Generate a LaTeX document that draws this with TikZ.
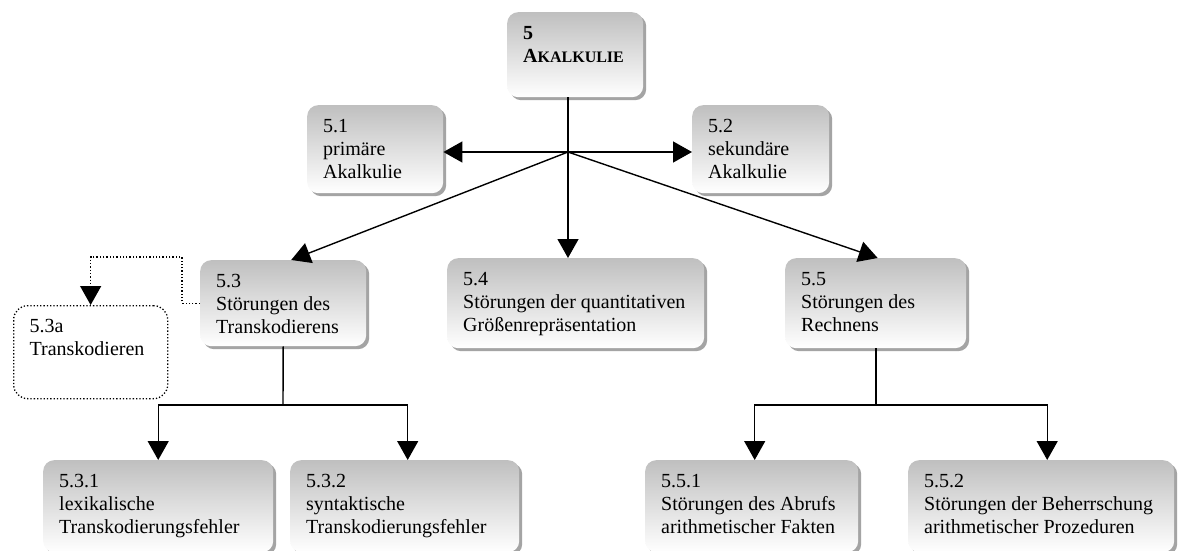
\documentclass[tikz,border=0pt]{standalone}
\usepackage{fontspec}
\setmainfont{Liberation Serif}
\usetikzlibrary{arrows.meta,shadows}
% box content: width, height (in pt, outer size), text
\newcommand\bxcontent[3]{\parbox[t][\dimexpr#2pt-28pt\relax][t]{\dimexpr#1pt-32pt\relax}{#3}}
\tikzset{
  box/.style={anchor=north west, inner xsep=16pt, inner ysep=14pt,
    rounded corners=11pt, top color=black!25, bottom color=white, draw=none,
    drop shadow={shadow xshift=3pt, shadow yshift=-3pt, fill=black!55, opacity=.65}},
  openbox/.style={anchor=north west, inner xsep=16pt, inner ysep=14pt,
    rounded corners=14pt, draw, dotted, line width=1.3pt, fill=white},
  conn/.style={line width=1.4pt},
  arr/.style={conn, -{Triangle[length=19pt,width=21pt]}},
  dotarr/.style={line width=1.3pt, dotted, -{Triangle[length=19pt,width=21pt]}}
}
\begin{document}
\begin{tikzpicture}[x=1pt, y=-1pt, font=\fontsize{20}{23}\selectfont]
\useasboundingbox (0,0) rectangle (1179,551);

% top level
\node[box] (n5) at (507,12) {\bxcontent{136}{85}{\textbf{5}\\\textbf{A{\fontsize{16}{23}\selectfont KALKULIE}}}};

% second level
\node[box] (n51) at (307,105) {\bxcontent{136}{88}{5.1\\primäre\\Akalkulie}};
\node[box] (n52) at (692,105) {\bxcontent{137}{88}{5.2\\sekundäre\\Akalkulie}};

% third level
\node[box] (n53) at (200,260) {\bxcontent{166}{86}{5.3\\Störungen des\\Transkodierens}};
\node[openbox] (n53a) at (13,305) {\bxcontent{154}{93}{5.3a\\Transkodieren}};
\node[box] (n54) at (447,258) {\bxcontent{257}{90}{5.4\\Störungen der quantitativen\\Größenrepräsentation}};
\node[box] (n55) at (785,258) {\bxcontent{181}{90}{5.5\\Störungen des\\Rechnens}};

% fourth level
\node[box] (n531) at (43,460) {\bxcontent{230}{92}{5.3.1\\lexikalische\\Transkodierungsfehler}};
\node[box] (n532) at (290,460) {\bxcontent{229}{92}{5.3.2\\syntaktische\\Transkodierungsfehler}};
\node[box] (n551) at (645,460) {\bxcontent{213}{92}{5.5.1\\Störungen des Abrufs\\arithmetischer Fakten}};
\node[box] (n552) at (908,460) {\bxcontent{266}{92}{5.5.2\\Störungen der Beherrschung\\arithmetischer Prozeduren}};

% branching points
\coordinate (J) at (568,152);
\coordinate (b3) at (283,405);
\coordinate (b5) at (876,405);
\coordinate (d1) at (182,257);

% connectors from the top box
\draw[conn] (n5.south -| J) -- (J);
\draw[arr] (J) -- (J -| n51.east);
\draw[arr] (J) -- (J -| n52.west);
\draw[arr] (J) -- (J |- n54.north);
\draw[arr] (J) -- ([xshift=8pt]n53.north);
\draw[arr] (J) -- ([xshift=2pt]n55.north);

% 5.3 branch
\draw[conn] (n53.south) -- (b3);
\draw[arr] (b3) -| (n531.north);
\draw[arr] (b3) -| ([xshift=3pt]n532.north);
\draw[dotarr] (n53.west) -| (d1) -| (n53a.north);

% 5.5 branch
\draw[conn] (n55.south -| b5) -- (b5);
\draw[arr] (b5) -| ([xshift=3pt]n551.north);
\draw[arr] (b5) -| ([xshift=6pt]n552.north);
\end{tikzpicture}
\end{document}
